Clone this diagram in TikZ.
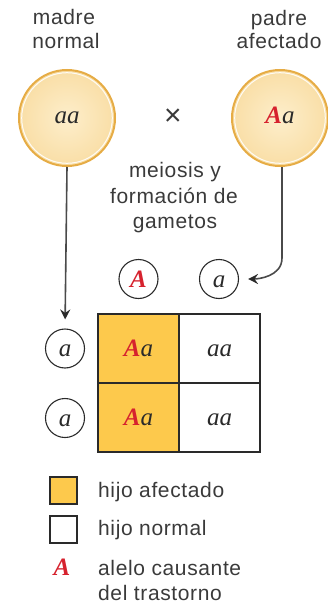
\documentclass[tikz,border=0pt]{standalone}
\usepackage{fontspec}
\setmainfont{Liberation Sans}[LetterSpace=3]
\newfontfamily\genefont{Liberation Serif}
\usetikzlibrary{arrows.meta}
\definecolor{txt}{HTML}{3A3A3A}
\definecolor{ink}{HTML}{2A2A2A}
\definecolor{wire}{HTML}{4A4A4A}
\definecolor{gold}{HTML}{E6AC45}
\definecolor{creamin}{HTML}{FDEECB}
\definecolor{creamout}{HTML}{F9DEA6}
\definecolor{affected}{HTML}{FDC94C}
\definecolor{allele}{HTML}{D6222E}
\newcommand\domA{\textcolor{allele}{\bfseries A}}
\tikzset{
  caption/.style={font=\fontsize{21}{24}\selectfont, text=txt, anchor=base, inner sep=0pt},
  gene/.style={font=\genefont\fontsize{25}{25}\selectfont\itshape, text=ink},
  parent/.style={circle, minimum size=96pt, inner sep=0pt, draw=gold, line width=2pt,
    shading=radial, inner color=creamin, outer color=creamout, gene,
    text height=12pt, text depth=0pt},
  gamete/.style={circle, minimum size=39pt, inner sep=0pt, draw=ink, line width=1.1pt, gene,
    text height=16pt, text depth=0pt},
  cell/.style={rectangle, minimum width=81pt, minimum height=69pt, inner sep=0pt,
    draw=ink, line width=1.4pt, gene, text height=16pt, text depth=0pt},
  keybox/.style={rectangle, minimum size=27pt, inner sep=0pt, draw=ink, line width=1.3pt},
  conn/.style={draw=wire, line width=1.6pt, -{Stealth[length=10pt,width=10pt,inset=3.5pt,color=ink]}},
}
\begin{document}
\begin{tikzpicture}[x=1pt, y=-1pt]
  \path[use as bounding box] (0,0) rectangle (328,607);

  % parents
  \node[caption] (madre1) at (64,25) {madre};
  \node[caption] (madre2) at (66,48.3) {normal};
  \node[caption] (padre1) at (279,26) {padre};
  \node[caption] (padre2) at (279,49) {afectado};

  \node[parent] (pL) at (67,118) {aa};
  \node[parent] (pR) at (280,118) {\domA a};
  \draw[white, line width=1pt, opacity=0.9] (pL.center) circle (45.3);
  \draw[white, line width=1pt, opacity=0.9] (pR.center) circle (45.3);

  \node[font=\fontsize{30}{30}\selectfont, text=txt, inner sep=0pt] (cross) at (173,117) {×};

  % meiosis
  \node[caption] (meio1) at (175,177) {meiosis y};
  \node[caption] (meio2) at (174,203.5) {formación de};
  \node[caption] (meio3) at (175,228) {gametos};

  % gametes
  \node[gamete] (gA) at (138.5,279) {\domA};
  \node[gamete] (ga) at (219,279) {a};
  \node[gamete] (g1) at (65,348.5) {a};
  \node[gamete] (g2) at (65,418) {a};

  % Punnett square
  \node[cell, fill=affected] (c11) at (138.5,348.5) {\domA a};
  \node[cell] (c12) at (219.5,348.5) {aa};
  \node[cell, fill=affected] (c21) at (138.5,417.5) {\domA a};
  \node[cell] (c22) at (219.5,417.5) {aa};

  % connectors
  \coordinate (bend) at (282,258);
  \draw[conn, shorten >=9pt] (pR.south -| bend) -- (bend) to[out=-90, in=0] (ga.east);
  \draw[conn, shorten >=9pt] (pL.south) -- (g1.north);

  % key
  \node[keybox, fill=affected] (k1) at (63.5,490.5) {};
  \node[keybox, fill=white] (k2) at (63.5,529.5) {};
  \node[gene, anchor=base, inner sep=0pt] (k3) at (62,575) {\domA};
  \node[caption, anchor=base west] (k1t) at (98,497) {hijo afectado};
  \node[caption, anchor=base west] (k2t) at (98,535) {hijo normal};
  \node[caption, anchor=base west] (k3t) at (98,575) {alelo causante};
  \node[caption, anchor=base west] (k3u) at (98,600) {del trastorno};
\end{tikzpicture}
\end{document}
